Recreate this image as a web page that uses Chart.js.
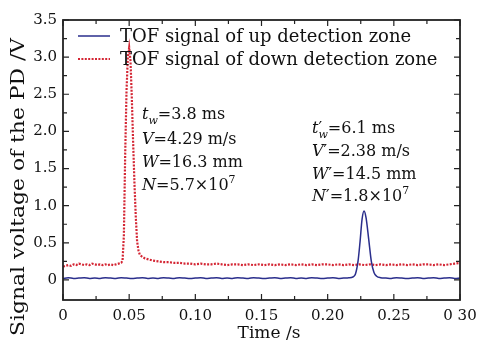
<!DOCTYPE html>
<html><head><meta charset="utf-8">
<script src="https://cdn.jsdelivr.net/npm/chart.js@4"></script>
<style>html,body{margin:0;padding:0;background:#fff}canvas{display:block}</style>
</head><body>
<canvas id="c" width="477" height="344"></canvas>
<script>
const xTickValues=[0,0.05,0.10,0.15,0.20,0.25,0.30];
const xTickLabels=["0","0.05","0.10","0.15","0.20","0.25","0 30"];
const yTickValues=[0,0.5,1.0,1.5,2.0,2.5,3.0,3.5];
const yTickLabels=["0","0.5","1.0","1.5","2.0","2.5","3.0","3.5"];
const seriesNames=["TOF signal of up detection zone","TOF signal of down detection zone"];
const xTitle="Time /s";
const yTitle="Signal voltage of the PD /V";

const upTime=[0,0.004,0.008,0.012,0.016,0.020,0.024,0.028,0.032,0.036,0.040,0.044,0.048,0.052,0.056,0.060,0.064,0.068,0.072,0.076,0.080,0.084,0.088,0.092,0.096,0.100,0.104,0.108,0.112,0.116,0.120,0.124,0.128,0.132,0.136,0.140,0.144,0.148,0.152,0.156,0.160,0.164,0.168,0.172,0.176,0.180,0.184,0.188,0.192,0.196,0.200,0.204,0.208,0.212,0.216,
0.219,0.221,0.223,0.2245,0.226,0.2275,0.229,0.231,0.233,0.235,0.237,0.240,
0.244,0.248,0.252,0.256,0.260,0.264,0.268,0.272,0.276,0.280,0.284,0.288,0.292,0.296,0.300];
const upVoltage=[0.02,0.03,0.02,0.025,0.03,0.02,0.025,0.02,0.03,0.025,
0.02,0.03,0.025,0.02,0.025,0.03,0.02,0.025,0.02,0.03,
0.025,0.02,0.03,0.025,0.02,0.025,0.03,0.02,0.025,0.03,
0.02,0.025,0.02,0.03,0.025,0.02,0.03,0.025,0.02,0.025,
0.03,0.02,0.025,0.03,0.02,0.025,0.02,0.03,0.025,0.02,
0.025,0.03,0.02,0.025,0.03,
0.04,0.08,0.26,0.52,0.82,0.93,0.84,0.55,0.25,0.10,0.05,0.03,
0.025,0.02,0.03,0.025,0.02,0.025,0.03,0.02,0.025,0.03,0.02,0.025,0.03,0.02,0.025];

const downTime=[0,0.002,0.004,0.006,0.008,0.010,0.012,0.014,0.016,0.018,0.020,0.022,0.024,0.026,0.028,0.030,0.032,0.034,0.036,0.038,0.040,0.042,0.044,
0.045,0.046,0.047,0.048,0.049,0.050,0.051,0.052,0.053,0.054,0.055,0.056,0.057,0.058,0.060,0.062,
0.064,0.068,0.072,0.076,0.080,0.084,0.088,0.092,0.096,0.100,0.104,0.108,0.112,0.116,0.120,0.124,0.128,0.132,0.136,0.140,0.144,0.148,0.152,0.156,0.160,0.164,0.168,0.172,0.176,0.180,0.184,0.188,0.192,0.196,0.200,0.204,0.208,0.212,0.216,0.220,0.224,0.228,0.232,0.236,0.240,0.244,0.248,0.252,0.256,0.260,0.264,0.268,0.272,0.276,0.280,0.284,0.288,0.292,0.296,0.300];
const downVoltage=[0.18,0.19,0.20,0.19,0.21,0.20,0.22,0.21,0.20,0.21,0.20,0.22,0.21,0.20,0.21,0.20,0.21,0.20,0.21,0.20,0.21,0.22,0.23,
0.26,0.60,1.70,2.55,3.00,3.13,2.95,2.45,1.85,1.30,0.85,0.52,0.40,0.34,0.31,0.29,
0.28,0.26,0.25,0.24,0.24,0.23,0.23,0.22,0.22,0.21,
0.22,0.21,0.21,0.22,0.21,0.20,0.21,0.21,0.20,0.21,
0.20,0.21,0.20,0.21,0.20,0.21,0.20,0.21,0.20,0.21,
0.20,0.21,0.20,0.21,0.21,0.20,0.21,0.20,0.21,0.20,
0.21,0.20,0.21,0.20,0.21,0.20,0.21,0.20,0.21,0.20,
0.21,0.20,0.21,0.21,0.20,0.21,0.20,0.21,0.22,0.23];

const FONT='"DejaVu Serif", "Liberation Serif", serif';
const BLUE='rgb(42,46,140)';
const RED='rgb(212,38,52)';

function rich(ctx,x,y,parts,size){
  for(const p of parts){
    const sz=(p.sub||p.sup)?Math.round(size*0.68):size;
    ctx.font=(p.i?'italic ':'')+sz+'px '+FONT;
    const dy=p.sub?size*0.32:(p.sup?-size*0.42:0);
    ctx.fillText(p.t,x,y+dy);
    if(!p.hold) x+=ctx.measureText(p.t).width;
  }
}

const decor={
  id:'decor',
  afterDraw(chart){
    const ctx=chart.ctx, a=chart.chartArea, xs=chart.scales.x, ys=chart.scales.y;
    ctx.save();
    ctx.strokeStyle='#222'; ctx.lineWidth=1.2;
    const xt=[]; for(let i=0;i<xTickValues.length;i++){xt.push([xTickValues[i],6]); if(i<xTickValues.length-1) xt.push([(xTickValues[i]+xTickValues[i+1])/2,4]);}
    for(const [v,l] of xt){const px=xs.getPixelForValue(v);
      ctx.beginPath();ctx.moveTo(px,a.bottom);ctx.lineTo(px,a.bottom-l);ctx.moveTo(px,a.top);ctx.lineTo(px,a.top+l);ctx.stroke();}
    const yt=[]; for(let i=0;i<yTickValues.length;i++){yt.push([yTickValues[i],6]); if(i<yTickValues.length-1) yt.push([(yTickValues[i]+yTickValues[i+1])/2,4]);}
    for(const [v,l] of yt){const py=ys.getPixelForValue(v);
      ctx.beginPath();ctx.moveTo(a.left,py);ctx.lineTo(a.left+l,py);ctx.moveTo(a.right,py);ctx.lineTo(a.right-l,py);ctx.stroke();}
    ctx.lineWidth=1.8; ctx.strokeStyle='#222';
    ctx.strokeRect(a.left,a.top,a.right-a.left,a.bottom-a.top);
    ctx.fillStyle='#111'; ctx.textBaseline='alphabetic'; ctx.textAlign='left';
    const rows=[{y:36,c:BLUE,d:[],w:1.5},{y:59,c:RED,d:[2,1.4],w:2.2}];
    rows.forEach((r,i)=>{
      ctx.save();ctx.strokeStyle=r.c;ctx.lineWidth=r.w;ctx.setLineDash(r.d);
      ctx.beginPath();ctx.moveTo(78,r.y);ctx.lineTo(110,r.y);ctx.stroke();ctx.restore();
      ctx.font='18px '+FONT;
      ctx.fillText(seriesNames[i],120,r.y+6);
    });
    const S=16;
    ctx.fillStyle='#111';
    rich(ctx,142,119,[{t:'t',i:1},{t:'w',i:1,sub:1},{t:'=3.8 ms'}],S);
    rich(ctx,142,144,[{t:'V',i:1},{t:'=4.29 m/s'}],S);
    rich(ctx,142,167,[{t:'W',i:1},{t:'=16.3 mm'}],S);
    rich(ctx,142,190,[{t:'N',i:1},{t:'=5.7×10'},{t:'7',sup:1}],S);
    rich(ctx,312,133,[{t:'t',i:1},{t:'′',hold:1},{t:'w',i:1,sub:1},{t:'=6.1 ms'}],S);
    rich(ctx,312,156,[{t:'V',i:1},{t:'′=2.38 m/s'}],S);
    rich(ctx,312,179,[{t:'W',i:1},{t:'′=14.5 mm'}],S);
    rich(ctx,312,201,[{t:'N',i:1},{t:'′=1.8×10'},{t:'7',sup:1}],S);
    ctx.font='17px '+FONT; ctx.textAlign='center'; ctx.textBaseline='middle';
    ctx.fillText(xTitle,269,334);
    ctx.save(); ctx.translate(19,187); ctx.rotate(-Math.PI/2);
    ctx.font='18px '+FONT;
    const w=ctx.measureText(yTitle).width; ctx.scale(298/w,1);
    ctx.fillText(yTitle,0,0); ctx.restore();
    ctx.restore();
  }
};

new Chart(document.getElementById('c'),{
  type:'line',
  data:{datasets:[
    {label:seriesNames[0],data:upTime.map((t,i)=>({x:t,y:upVoltage[i]})),borderColor:BLUE,borderWidth:1.5,pointRadius:0,cubicInterpolationMode:'monotone',fill:false},
    {label:seriesNames[1],data:downTime.map((t,i)=>({x:t,y:downVoltage[i]})),borderColor:RED,borderWidth:2.2,borderDash:[2,1.4],pointRadius:0,tension:0,fill:false}
  ]},
  options:{
    responsive:false,animation:false,
    layout:{padding:{left:0,right:17,top:20,bottom:0}},
    plugins:{legend:{display:false},tooltip:{enabled:false}},
    scales:{
      x:{type:'linear',min:0,max:0.30,
        afterBuildTicks(s){s.ticks=xTickValues.map(v=>({value:v}));},
        afterFit(s){s.height=44;s.paddingLeft=0;s.paddingRight=0;},
        grid:{display:false,drawTicks:false},border:{display:false},
        ticks:{autoSkip:false,maxRotation:0,padding:7,color:'#111',font:{family:FONT,size:15},
          callback:(v,i)=>xTickLabels[i]}},
      y:{type:'linear',min:-0.27,max:3.5,
        afterBuildTicks(s){s.ticks=yTickValues.map(v=>({value:v}));},
        afterFit(s){s.width=63;s.paddingTop=0;s.paddingBottom=0;},
        grid:{display:false,drawTicks:false},border:{display:false},
        ticks:{padding:6,color:'#111',font:{family:FONT,size:15},
          callback:(v,i)=>yTickLabels[i]}}
    }
  },
  plugins:[decor]
});
</script>
</body></html>
